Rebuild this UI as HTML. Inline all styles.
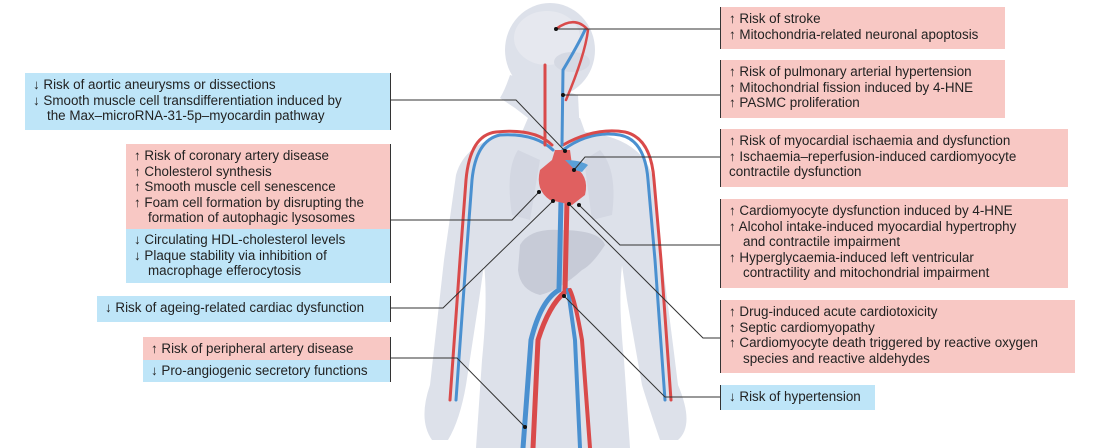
<!DOCTYPE html>
<html><head><meta charset="utf-8"><style>
body{margin:0;width:1112px;height:448px;overflow:hidden;background:#fff;font-family:"Liberation Sans","DejaVu Sans",sans-serif;position:relative}
.b{position:absolute;font-size:13.4px;line-height:15.6px;color:#222;box-sizing:border-box;white-space:nowrap}
.p{background:#f8c8c4}.u{background:#bee5f8}
.i{padding-left:14px}
.L{padding:4px 8px 4px 8px;border-right:1.5px solid #333}
.R{padding:4px 8px 4px 8px;border-left:1.5px solid #333}
svg{position:absolute;left:0;top:0}
</style></head><body>
<svg width="1112" height="448">
<g fill="#dde1ea">
<ellipse cx="550" cy="50" rx="45" ry="47"/>
<path d="M510 75 Q505 90 500 98 L515 108 L528 118 L530 135 L580 135 L578 95 Z"/>
<path d="M528 118 L580 118 L585 132 Q640 138 652 175 L662 260 Q670 320 678 385 Q695 425 678 440 L660 440 Q648 405 642 385 L627 300 L622 265 Q618 300 624 360 L630 448 L476 448 L482 360 Q488 300 484 265 L479 300 L466 385 Q460 420 448 440 L432 440 Q418 420 430 385 L444 260 L456 175 Q466 138 522 132 Z"/>
</g>
<ellipse cx="547" cy="38" rx="33" ry="27" fill="#e6e8ef"/>
<ellipse cx="572" cy="62" rx="18" ry="10" fill="#d5d9e3"/>
<path d="M518 150 Q505 170 512 215 L530 220 L540 160 Z" fill="#d3d7e2"/>
<path d="M600 150 Q618 170 612 215 L592 220 L584 160 Z" fill="#d3d7e2"/>
<path d="M520 245 Q530 228 560 230 Q600 230 605 245 Q592 265 582 270 Q560 290 540 295 Q520 290 518 270 Z" fill="#c7cbd7"/>
<g fill="none" stroke-linecap="round">
<path d="M523 448 L531 340 Q541 300 559 290 L561 200" stroke="#4a90d0" stroke-width="5"/>
<path d="M533 448 L538 340 Q549 305 565 292 L567 200" stroke="#d94a4a" stroke-width="5"/>
<path d="M580 448 L575 340 Q570 305 568 290" stroke="#4a90d0" stroke-width="4"/>
<path d="M590 448 L582 340 Q575 300 570 290" stroke="#d94a4a" stroke-width="4"/>
<path d="M553 150 Q535 133 500 135 Q476 140 472 180 L466 260 Q461 330 456 400" stroke="#4a90d0" stroke-width="3"/>
<path d="M552 145 Q535 128 496 132 Q470 135 466 180 L460 260 Q455 330 450 400" stroke="#d94a4a" stroke-width="3"/>
<path d="M563 150 Q590 130 620 135 Q645 140 648 180 L655 260 Q660 330 665 400" stroke="#4a90d0" stroke-width="3"/>
<path d="M563 145 Q595 127 625 132 Q651 138 654 180 L661 260 Q666 330 671 400" stroke="#d94a4a" stroke-width="3"/>
<path d="M545 145 L545 65" stroke="#d94a4a" stroke-width="3"/>
<path d="M562 145 L563 70 Q578 45 585 30" stroke="#4a90d0" stroke-width="3"/>
<path d="M566 100 Q585 55 588 30 Q575 15 556 29" stroke="#d94a4a" stroke-width="2.5"/>
</g>
<path d="M555 150 L570 150 L572 165 Q590 175 585 195 L572 205 L550 200 Q535 190 540 170 L552 160 Z" fill="#e06060"/>
<path d="M565 160 Q580 160 588 165 L582 172 L575 170 Z" fill="#5aa0d8"/>
<g stroke="#333" stroke-width="1" fill="none">
<path d="M720 29 L556 29"/><path d="M720 95 L563 95"/>
<path d="M720 157 L585 157 L574 170"/>
<path d="M720 245 L620 245 L579 205"/>
<path d="M720 338 L703 338 L569 204"/>
<path d="M720 397 L665 397 L564 296"/>
<path d="M390 100 L516 100 L565 151"/>
<path d="M390 220 L512 220 L539 192"/>
<path d="M390 308 L443 308 L553 201"/>
<path d="M390 358 L457 358 L525 427"/>
</g>
<g fill="#111">
<circle cx="556" cy="29" r="2"/><circle cx="563" cy="95" r="2"/><circle cx="574" cy="170" r="2"/><circle cx="579" cy="205" r="2"/><circle cx="569" cy="204" r="2"/><circle cx="564" cy="296" r="2"/><circle cx="565" cy="151" r="2"/><circle cx="539" cy="192" r="2"/><circle cx="553" cy="201" r="2"/><circle cx="525" cy="427" r="2"/>
</g>
</svg>
<div class="b u L" style="left:25px;top:73px;width:366px;height:57px">↓ Risk of aortic aneurysms or dissections<br>↓ Smooth muscle cell transdifferentiation induced by<br><span class="i">the Max–microRNA-31-5p–myocardin pathway</span></div>
<div class="b L" style="left:126px;top:144px;width:265px;padding:0;">
<div class="p" style="padding:4px 8px 3px 8px">↑ Risk of coronary artery disease<br>↑ Cholesterol synthesis<br>↑ Smooth muscle cell senescence<br>↑ Foam cell formation by disrupting the<br><span class="i">formation of autophagic lysosomes</span></div>
<div class="u" style="padding:3px 8px 4px 8px">↓ Circulating HDL-cholesterol levels<br>↓ Plaque stability via inhibition of<br><span class="i">macrophage efferocytosis</span></div></div>
<div class="b u L" style="left:97px;top:296px;width:294px;height:26px">↓ Risk of ageing-related cardiac dysfunction</div>
<div class="b L" style="left:143px;top:337px;width:248px;padding:0">
<div class="p" style="padding:4px 8px 3px 8px">↑ Risk of peripheral artery disease</div>
<div class="u" style="padding:3px 8px 4px 8px">↓ Pro-angiogenic secretory functions</div></div>
<div class="b p R" style="left:720px;top:7px;width:285px;height:42px">↑ Risk of stroke<br>↑ Mitochondria-related neuronal apoptosis</div>
<div class="b p R" style="left:720px;top:60px;width:285px;height:58px">↑ Risk of pulmonary arterial hypertension<br>↑ Mitochondrial fission induced by 4-HNE<br>↑ PASMC proliferation</div>
<div class="b p R" style="left:720px;top:129px;width:348px;height:58px">↑ Risk of myocardial ischaemia and dysfunction<br>↑ Ischaemia–reperfusion-induced cardiomyocyte<br>contractile dysfunction</div>
<div class="b p R" style="left:720px;top:199px;width:348px;height:89px">↑ Cardiomyocyte dysfunction induced by 4-HNE<br>↑ Alcohol intake-induced myocardial hypertrophy<br><span class="i">and contractile impairment</span><br>↑ Hyperglycaemia-induced left ventricular<br><span class="i">contractility and mitochondrial impairment</span></div>
<div class="b p R" style="left:720px;top:300px;width:355px;height:73px">↑ Drug-induced acute cardiotoxicity<br>↑ Septic cardiomyopathy<br>↑ Cardiomyocyte death triggered by reactive oxygen<br><span class="i">species and reactive aldehydes</span></div>
<div class="b u R" style="left:720px;top:385px;width:155px;height:25px">↓ Risk of hypertension</div>
</body></html>
